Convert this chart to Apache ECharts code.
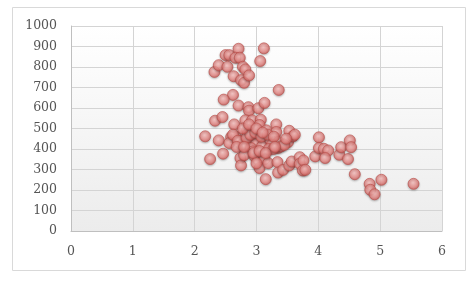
<!DOCTYPE html>
<html><head><meta charset="utf-8">
<script src="https://cdn.jsdelivr.net/npm/echarts@6/dist/echarts.min.js"></script>
<style>html,body{margin:0;padding:0;background:#fff}#c{width:473px;height:281px}</style>
</head><body><div id="c"></div>
<script>
const xValues = [2.32,2.39,2.50,2.56,2.53,2.71,2.66,2.73,2.78,2.82,2.63,2.75,2.80,2.88,3.06,3.12,3.36,2.62,2.47,2.71,2.87,2.88,3.03,3.13,2.33,2.45,2.64,2.82,2.93,3.07,3.05,3.32,2.85,2.86,3.16,3.32,3.53,2.17,2.39,2.59,2.67,2.56,2.72,2.76,2.94,3.01,2.99,3.09,3.22,3.36,3.51,3.59,2.91,2.94,3.35,3.40,2.25,2.46,2.74,2.75,2.80,2.97,3.03,3.11,3.13,3.05,3.19,3.15,3.34,3.35,3.43,3.53,3.57,3.70,3.70,3.76,3.75,3.79,3.95,4.01,4.01,4.09,4.16,4.11,4.34,4.37,4.48,4.51,4.53,4.59,4.83,4.84,4.91,5.02,5.54,
 2.62,2.70,2.84,2.90,2.98,3.08,3.18,3.25,3.28,2.78,2.88,3.00,3.10,3.20,3.45,3.62,2.95,3.05,3.27,2.68,3.15,3.30,3.48,2.80,3.00];
const yValues = [776,809,858,858,801,889,845,845,801,788,755,736,723,759,829,891,688,664,641,612,604,587,599,625,538,556,520,540,540,543,517,520,491,473,491,483,489,462,442,458,458,429,439,421,445,457,424,413,445,434,434,462,405,388,405,413,351,377,356,320,370,364,347,372,351,307,331,253,336,285,298,320,339,360,328,344,295,298,364,457,405,401,393,356,372,409,351,442,409,277,230,201,179,250,230,
 470,440,455,470,480,460,470,420,460,500,520,500,480,400,420,470,380,390,400,410,380,410,450,410,330];
const xTicks = [0,1,2,3,4,5,6];
const yTicks = [0,100,200,300,400,500,600,700,800,900,1000];

const chart = echarts.init(document.getElementById('c'), null, {renderer:'canvas'});
const data = xValues.map((x,i)=>[x,yValues[i]]);
const font = '"DejaVu Serif", serif';
chart.setOption({
  animation:false,
  graphic:[{type:'rect',shape:{x:12.5,y:7.5,width:453,height:263},style:{fill:'none',stroke:'#d9d9d9',lineWidth:1}}],
  grid:{left:71,right:31,top:26,bottom:50,show:true,borderWidth:0,
    backgroundColor:new echarts.graphic.LinearGradient(0,0,0,1,[{offset:0,color:'#ffffff'},{offset:1,color:'#ececec'}])},
  xAxis:{type:'value',min:xTicks[0],max:xTicks[xTicks.length-1],interval:1,
    axisLine:{show:true,lineStyle:{color:'#bfbfbf'}},axisTick:{show:false},
    splitLine:{show:true,lineStyle:{color:'#d4d4d4'}},
    axisLabel:{color:'#555555',fontFamily:font,fontSize:12.5,margin:14,formatter:v=>String(v)}},
  yAxis:{type:'value',min:yTicks[0],max:yTicks[yTicks.length-1],interval:100,
    axisLine:{show:true,lineStyle:{color:'#bfbfbf'}},axisTick:{show:false},
    splitLine:{show:true,lineStyle:{color:'#d4d4d4'}},
    axisLabel:{color:'#555555',fontFamily:font,fontSize:12.5,margin:14,formatter:v=>String(v)}},
  series:[{type:'scatter',data:data,symbol:'circle',symbolSize:11,
    itemStyle:{color:new echarts.graphic.RadialGradient(0.45,0.4,0.6,[{offset:0,color:'#fbc4c2'},{offset:0.6,color:'#ea8c89'},{offset:1,color:'#cc5c58'}]),
      borderColor:'#bb4e4a',borderWidth:0.8,shadowColor:'rgba(0,0,0,0.3)',shadowBlur:2,shadowOffsetY:1}}]
});
</script></body></html>
